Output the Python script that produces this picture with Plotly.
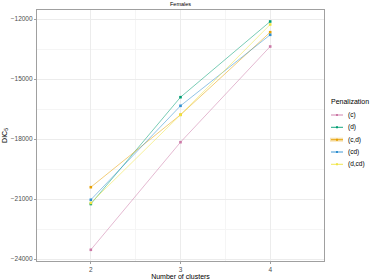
import plotly.graph_objects as go

clusters = [2, 3, 4]
series_names = ["(c)", "(d)", "(c,d)", "(cd)", "(d,cd)"]
dic_c = [-23540, -18160, -13375]
dic_d = [-21250, -15910, -12125]
dic_c_d = [-20410, -16790, -12660]
dic_cd = [-21040, -16340, -12790]
dic_d_cd = [-21200, -16790, -12275]
y_ticks = [-24000, -21000, -18000, -15000, -12000]
y_tick_labels = ["\u221224000", "\u221221000", "\u221218000", "\u221215000", "\u221212000"]

series_values = [dic_c, dic_d, dic_c_d, dic_cd, dic_d_cd]
colors = ["#CC79A7", "#009E73", "#E69F00", "#2F8FD0", "#F0E442"]


def rgba(hex_col, a):
    h = hex_col.lstrip("#")
    r, g, b = int(h[0:2], 16), int(h[2:4], 16), int(h[4:6], 16)
    return f"rgba({r},{g},{b},{a})"


fig = go.Figure()
for name, vals, col in zip(series_names, series_values, colors):
    fig.add_trace(go.Scatter(
        x=clusters, y=vals, name=name, mode="lines",
        line=dict(color=rgba(col, 0.7), width=0.75),
        showlegend=False, hoverinfo="skip",
    ))
    fig.add_trace(go.Scatter(
        x=clusters, y=vals, name=name, mode="markers",
        marker=dict(color=col, size=2.6, symbol="square"),
        showlegend=False,
    ))

font_family = "Liberation Sans, Arial, sans-serif"
axis_common = dict(
    showline=True, linecolor="#a0a0a0", linewidth=1.2, mirror=True,
    ticks="outside", ticklen=2, tickcolor="#a0a0a0", tickwidth=0.8,
    gridcolor="#ececec", gridwidth=0.6, zeroline=False, automargin=False,
    tickfont=dict(size=6.5, color="#4d4d4d", family=font_family),
)

fig_w, fig_h = 374, 280
ml, mr, mt, mb = 37, 50, 10, 19
pw, ph = fig_w - ml - mr, fig_h - mt - mb


def px_to_paper_x(px):
    return (px - ml) / pw


def px_to_paper_y(py):
    return (fig_h - mb - py) / ph


shapes = []
annotations = [
    dict(text="Females", x=0.5, xref="paper", y=1.0, yref="paper", yanchor="bottom",
         showarrow=False, font=dict(size=5.5), yshift=1),
    dict(text="Penalization", x=px_to_paper_x(329), xref="paper", xanchor="left",
         y=px_to_paper_y(101), yref="paper", yanchor="middle",
         showarrow=False, font=dict(size=7)),
]

legend_y = [115, 127.3, 139.7, 152, 164.3]
for name, col, ly in zip(series_names, colors, legend_y):
    yp = px_to_paper_y(ly)
    if name == "(c,d)":
        shapes.append(dict(type="rect", xref="paper", yref="paper",
                           x0=px_to_paper_x(330), x1=px_to_paper_x(343),
                           y0=px_to_paper_y(ly + 2), y1=px_to_paper_y(ly - 2),
                           fillcolor=rgba(col, 0.3), line=dict(width=0)))
    shapes.append(dict(type="line", xref="paper", yref="paper",
                       x0=px_to_paper_x(331), x1=px_to_paper_x(343), y0=yp, y1=yp,
                       line=dict(color=col, width=0.9)))
    shapes.append(dict(type="rect", xref="paper", yref="paper",
                       x0=px_to_paper_x(336), x1=px_to_paper_x(338),
                       y0=px_to_paper_y(ly + 1), y1=px_to_paper_y(ly - 1),
                       fillcolor=col, line=dict(width=0)))
    annotations.append(dict(text=name, x=px_to_paper_x(346), xref="paper", xanchor="left",
                            y=yp, yref="paper", yanchor="middle", showarrow=False,
                            font=dict(size=6.5, color="#000000")))

fig.update_layout(
    width=fig_w, height=fig_h,
    margin=dict(l=ml, r=mr, t=mt, b=mb, autoexpand=False),
    paper_bgcolor="white", plot_bgcolor="white",
    font=dict(family=font_family, color="#000000"),
    showlegend=False,
    xaxis=dict(
        range=[1.4, 4.6], tickvals=clusters, ticktext=[str(c) for c in clusters],
        title=dict(text="Number of clusters", font=dict(size=7), standoff=1),
        minor=dict(showgrid=True, gridcolor="#f5f5f5", gridwidth=0.5, tickvals=[2.5, 3.5], ticks=""),
        **axis_common,
    ),
    yaxis=dict(
        range=[-24100, -11550], tickvals=y_ticks, ticktext=y_tick_labels,
        title=dict(text="DIC<sub>5</sub>", font=dict(size=7), standoff=2),
        minor=dict(showgrid=True, gridcolor="#f5f5f5", gridwidth=0.5,
                   tickvals=[-22500, -19500, -16500, -13500], ticks=""),
        **axis_common,
    ),
    shapes=shapes,
    annotations=annotations,
)

fig.write_html(
    "out.html",
    config={"displayModeBar": False},
    post_script="document.body.style.margin='0';document.body.style.padding='0';document.body.style.overflow='hidden';",
)
